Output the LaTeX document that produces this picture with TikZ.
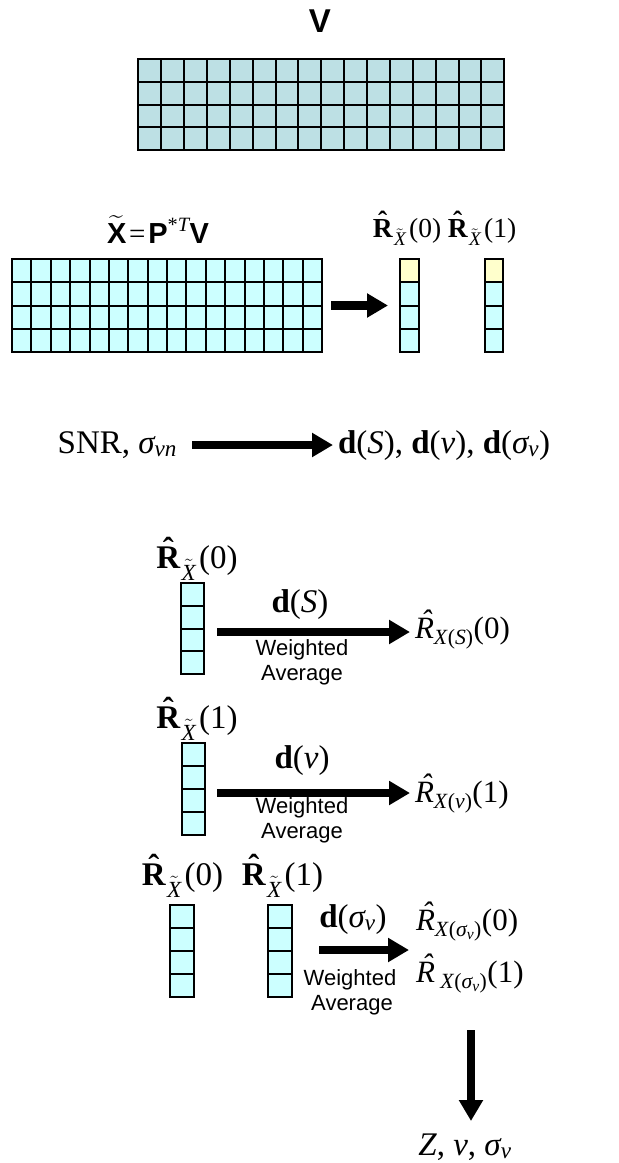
\documentclass[tikz,border=0pt]{standalone}
\usepackage{amsmath}
\usepackage{fontspec}
\setmainfont{Liberation Serif}
\setsansfont{Liberation Sans}
\usetikzlibrary{arrows.meta}

\definecolor{vcell}{RGB}{189,224,228}
\definecolor{xcell}{RGB}{204,255,255}
\definecolor{ycell}{RGB}{255,255,204}

% math pieces set in the text fonts
\newcommand\iv[1]{\text{\itshape #1}}
\newcommand\sig{\text{\itshape σ}}
% circumflex from the text font over a letter: [shift]{font}{letter}
\newcommand\chat[3][0pt]{{#2\ooalign{#3\cr\hidewidth\kern#1\raisebox{0.22em}{ˆ}\hidewidth\cr}}}
\newcommand\bRh{\text{\chat{\bfseries}{R}}}
\newcommand\iRh{\text{\chat[3pt]{\itshape}{R}}}
\newcommand\RXt[1]{$\bRh\mkern1mu_{\tilde{\text{\itshape X}}}\mkern2mu\text{(#1)}$}

\tikzset{
  cellbox/.style={draw=black, line width=2pt, inner sep=0pt, outer sep=0pt, anchor=north west},
  cellline/.style={draw=black, line width=2pt},
  fatarrow/.style={line width=8.5pt, -{Triangle[length=21pt,width=23pt]}},
  lbl/.style={inner sep=0pt, outer sep=0pt},
  serif/.style={lbl, font=\fontsize{33}{38}\selectfont},
  serifout/.style={lbl, font=\fontsize{31}{36}\selectfont},
  serifsm/.style={lbl, font=\fontsize{27.5}{32}\selectfont},
  wavg/.style={lbl, font=\sffamily\fontsize{22}{25}\selectfont},
  boldsans/.style={lbl, font=\sffamily\bfseries\fontsize{29}{34}\selectfont},
}

% #1 name, #2 left, #3 top, #4 columns, #5 rows, #6 cell width, #7 cell height, #8 fill
\newcommand\cellgrid[8]{%
  \node[cellbox, fill=#8, minimum width={#4*#6pt}, minimum height={#5*#7pt}] (#1) at (#2,#3) {};
  \pgfmathtruncatemacro\gridlastc{#4-1}%
  \pgfmathtruncatemacro\gridlastr{#5-1}%
  \ifnum\gridlastc>0
    \foreach \k in {1,...,\gridlastc} {\draw[cellline] (#1.north west) ++(\k*#6,0) -- ++(0,#5*#7);}%
  \fi
  \foreach \k in {1,...,\gridlastr} {\draw[cellline] (#1.north west) ++(0,\k*#7) -- ++(#4*#6,0);}%
}

\begin{document}
\begin{tikzpicture}[x=1pt,y=-1pt]
\useasboundingbox (0,0) rectangle (619,1163);
\fill[white] (0,0) rectangle (619,1163);

% V
\node[lbl, font=\sffamily\bfseries\fontsize{33}{38}\selectfont, anchor=base] (vlab) at (320,32) {V};
\cellgrid{vgrid}{138.3}{59}{16}{4}{22.875}{22.75}{vcell}

% X tilde = P^{*T} V
\node[boldsans, anchor=base] (xlab) at (158,243)
  {$\widetilde{\text{X}}\mkern2mu\text{\rmfamily\mdseries =}\mkern2mu\text{P}^{\text{\rmfamily\mdseries *\itshape T}}\text{V}$};
\cellgrid{xgrid}{12}{259}{16}{4}{19.375}{23.25}{xcell}

% R(0), R(1) column vectors
\cellgrid{rz}{400}{259}{1}{4}{18.5}{23.25}{xcell}
\fill[ycell] ([shift={(1,1)}]rz.north west) rectangle ([shift={(-1,22.25)}]rz.north east);
\cellgrid{ro}{484.5}{259}{1}{4}{18.5}{23.25}{xcell}
\fill[ycell] ([shift={(1,1)}]ro.north west) rectangle ([shift={(-1,22.25)}]ro.north east);
\node[serifsm, anchor=base] (rzlab) at (407,237) {\RXt{0}};
\node[serifsm, anchor=base] (rolab) at (482,237) {\RXt{1}};
\draw[fatarrow, shorten <=9pt, shorten >=12pt] (xgrid.east) -- (rz.west);

% SNR -> d vectors
\node[serif, anchor=base east] (snr) at (177,453) {SNR, $\sig_{\iv{vn}}$};
\node[serif, anchor=base west] (dvec) at (338,453)
  {{\bfseries d}(\textit{S}), {\bfseries d}(\textit{v}), {\bfseries d}($\sig_{\iv{v}}$)};
\draw[fatarrow, shorten <=15pt, shorten >=5pt] (snr.east |- 0,445) -- (dvec.west |- 0,445);

% weighted average with d(S)
\node[serif, anchor=base] (l4) at (197,568) {\RXt{0}};
\cellgrid{c4}{181}{583}{1}{4}{22.5}{22.75}{xcell}
\node[serif, anchor=base] (d4) at (300,612) {{\bfseries d}(\textit{S})};
\node[wavg, anchor=base] (w4) at (302,655) {Weighted};
\node[wavg, anchor=base] (a4) at (302,680) {Average};
\node[serifout, anchor=base west] (o4) at (415,638)
  {$\iRh_{\text{\itshape X\/\upshape(\itshape S\/\upshape)}}\text{(0)}$};
\draw[fatarrow, shorten <=13.5pt, shorten >=5pt] (c4.east |- 0,632) -- (o4.west |- 0,632);

% weighted average with d(v)
\node[serif, anchor=base] (l5) at (197,728) {\RXt{1}};
\cellgrid{c5}{182}{743}{1}{4}{22.5}{23}{xcell}
\node[serif, anchor=base] (d5) at (302,768) {{\bfseries d}(\textit{v})};
\node[wavg, anchor=base] (w5) at (302,813) {Weighted};
\node[wavg, anchor=base] (a5) at (302,838) {Average};
\node[serifout, anchor=base west] (o5) at (415,802)
  {$\iRh_{\text{\itshape X\/\upshape(\itshape v\/\upshape)}}\text{(1)}$};
\draw[fatarrow, shorten <=12.5pt, shorten >=5pt] (c5.east |- 0,793) -- (o5.west |- 0,793);

% weighted average with d(sigma_v)
\node[serif, anchor=base] (l6a) at (182.5,885) {\RXt{0}};
\node[serif, anchor=base] (l6b) at (282.5,885) {\RXt{1}};
\cellgrid{c6a}{170}{905}{1}{4}{24}{23}{xcell}
\cellgrid{c6b}{268}{905}{1}{4}{24}{23}{xcell}
\node[serif, anchor=base] (d6) at (353,927) {{\bfseries d}($\sig_{\iv{v}}$)};
\node[wavg, anchor=base] (w6) at (350,985) {Weighted};
\node[wavg, anchor=base] (a6) at (352,1010) {Average};
\node[serifout, anchor=base west] (o6a) at (416,930)
  {$\iRh_{\text{\itshape X\/\upshape(}\sig_{\iv{v}}\text{)}}\text{(0)}$};
\node[serifout, anchor=base west] (o6b) at (416,982)
  {$\iRh\mkern4mu_{\raisebox{-3pt}{$\scriptstyle\text{\itshape X\/\upshape(}\sig_{\iv{v}}\text{)}$}}\text{(1)}$};
\draw[fatarrow, shorten <=27pt, shorten >=7pt] (c6b.east |- 0,950) -- (o6a.west |- 0,950);

% result
\node[serif, anchor=base] (zv) at (465,1155) {\textit{Z}, \textit{v}, $\sig_{\iv{v}}$};
\draw[fatarrow, shorten >=34pt] (o6b.base -| 471,0) ++(0,48) -- (zv.base -| 471,0);
\end{tikzpicture}
\end{document}
